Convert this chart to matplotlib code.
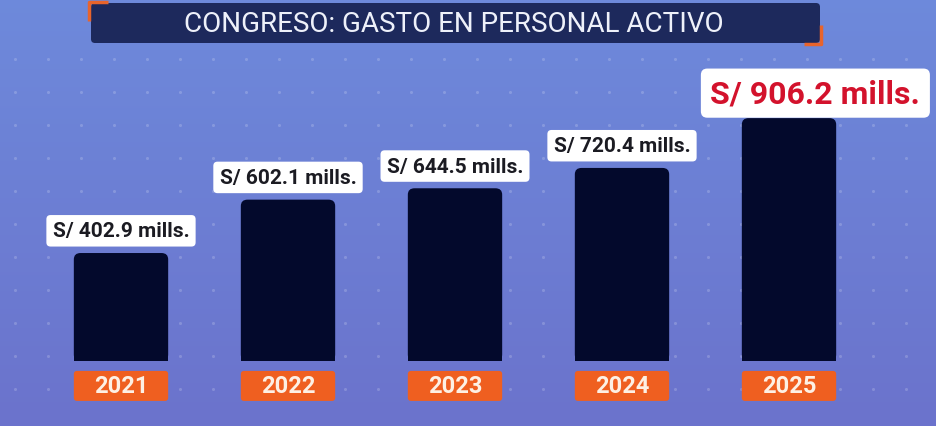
import matplotlib
matplotlib.use("Agg")
import matplotlib.pyplot as plt
import matplotlib.patches as patches
import numpy as np

# Datos
anios = ["2021", "2022", "2023", "2024", "2025"]
gasto = [402.9, 602.1, 644.5, 720.4, 906.2]
etiquetas = ["S/ 402.9 mills.", "S/ 602.1 mills.", "S/ 644.5 mills.",
             "S/ 720.4 mills.", "S/ 906.2 mills."]
titulo = "CONGRESO: GASTO EN PERSONAL ACTIVO"

fuente = ["Roboto", "DejaVu Sans"]
W, H = 937, 427

fig = plt.figure(figsize=(W / 100, H / 100), dpi=100)

# Fondo (coordenadas en pixeles)
bg = fig.add_axes([0, 0, 1, 1])
bg.set_xlim(0, W)
bg.set_ylim(H, 0)
bg.axis("off")
top = np.array([0.43, 0.54, 0.86])
bottom = np.array([0.42, 0.45, 0.80])
t = np.linspace(0, 1, 200)[:, None, None]
grad = top * (1 - t) + bottom * t
grad = np.repeat(grad, 2, axis=1)
bg.imshow(grad, extent=[0, W, H, 0], aspect="auto", zorder=0)

# textura de puntos tenues
px, py = np.meshgrid(np.arange(15, W, 33), np.arange(60, 420, 33))
bg.scatter(px.ravel(), py.ravel(), s=5, color="white", alpha=0.18, lw=0, zorder=1)

# Barra del titulo
bg.add_patch(patches.FancyBboxPatch((91, 4), 729, 40, boxstyle="round,pad=0,rounding_size=4",
                                    facecolor="#1d295c", edgecolor="none", zorder=2))
bg.plot([89, 89, 108], [22, 3, 3], color="#e8642c", lw=2.5, zorder=3, solid_capstyle="butt")
bg.plot([804, 821, 821], [45, 45, 26], color="#e8642c", lw=2.5, zorder=3, solid_capstyle="butt")
bg.text(454, 24, titulo, color="#eef1fa", fontsize=20, family=fuente,
        ha="center", va="center", zorder=4)

# Grafico de barras
ax = fig.add_axes([37.5 / W, (H - 362) / H, 835 / W, 268 / H])
ax.set_xlim(-0.5, len(anios) - 0.5)
ax.set_ylim(0, 1000)
ax.axis("off")
ax.patch.set_alpha(0)

ancho = 0.565
x = np.arange(len(anios))
barras = ax.bar(x, gasto, width=ancho, color="#03092c", zorder=2)
for b in barras:
    b.set_visible(False)
    bx, by, bw, bh = b.get_x(), b.get_y(), b.get_width(), b.get_height()
    ax.add_patch(patches.FancyBboxPatch((bx, by), bw, bh,
                                        boxstyle="round,pad=0,rounding_size=0.04",
                                        mutation_aspect=600, facecolor="#03092c",
                                        edgecolor="none", zorder=2))
    ax.add_patch(patches.Rectangle((bx, by), bw, bh / 2, facecolor="#03092c",
                                   edgecolor="none", zorder=2))

# Etiquetas de valor
for i, (v, txt) in enumerate(zip(gasto, etiquetas)):
    ultimo = i == len(gasto) - 1
    ax.annotate(txt, (x[i], v), xytext=(19 if ultimo else 0, 18 if ultimo else 16),
                textcoords="offset points", ha="center", va="center",
                fontsize=23 if ultimo else 15, fontweight="bold", family=fuente,
                color="#d3122c" if ultimo else "#1b1b22",
                bbox=dict(boxstyle="round,pad=0.3,rounding_size=0.2",
                          facecolor="white", edgecolor="none"),
                annotation_clip=False, zorder=5)

# Etiquetas de anio (cajas naranjas)
for i, a in enumerate(anios):
    ax.add_patch(patches.FancyBboxPatch((x[i] - ancho / 2, -149), ancho, 112,
                                        boxstyle="round,pad=0,rounding_size=0.02",
                                        mutation_aspect=600, facecolor="#ef5f20",
                                        edgecolor="none", clip_on=False, zorder=3))
    ax.text(x[i], -93, a, ha="center", va="center", fontsize=17, fontweight="bold",
            family=fuente, color="#fdf0e4", clip_on=False, zorder=4)

fig.savefig("out.png", dpi=100)
